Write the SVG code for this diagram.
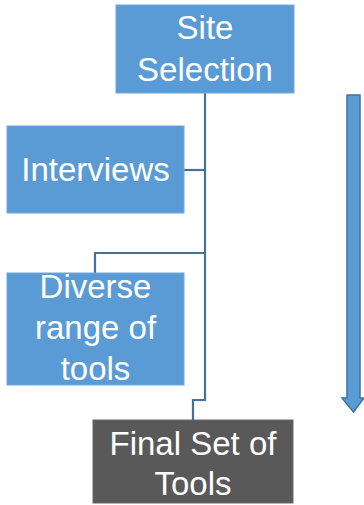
<svg xmlns="http://www.w3.org/2000/svg" width="364" height="505" viewBox="0 0 364 505">
<style>
.box{fill:#5B9BD5;stroke:#6FA8DC;stroke-width:1}
.dark{fill:#595959;stroke:#6a6a6a;stroke-width:1}
.t{font-family:"Liberation Sans",Arial,sans-serif;font-size:33px;fill:#ffffff;text-anchor:middle}
.c{fill:none;stroke:#41719C;stroke-width:2.2}
</style>
<rect width="364" height="505" fill="#ffffff"/>
<g id="connectors">
<path class="c" d="M205 93 V400 H193 V420"/>
<path class="c" d="M184 170 H205"/>
<path class="c" d="M205 253 H95 V273"/>
</g>
<g id="site">
<rect class="box" x="116" y="5" width="178" height="88"/>
<text class="t" x="205" y="39">Site</text>
<text class="t" x="205" y="81">Selection</text>
</g>
<g id="interviews">
<rect class="box" x="7" y="126" width="177" height="87"/>
<text class="t" x="95.5" y="181">Interviews</text>
</g>
<g id="diverse">
<rect class="box" x="7" y="273" width="177" height="112"/>
<text class="t" x="95.5" y="298">Diverse</text>
<text class="t" x="95.5" y="339">range of</text>
<text class="t" x="95.5" y="380">tools</text>
</g>
<g id="final">
<rect class="dark" x="93" y="420" width="200" height="83"/>
<text class="t" x="193" y="455">Final Set of</text>
<text class="t" x="193" y="495">Tools</text>
</g>
<g id="arrow">
<path d="M347 95 H360 V398 H364 L353.5 412 L342 398 H347 Z" fill="#5B9BD5" stroke="#41719C" stroke-width="1.5"/>
</g>
</svg>
